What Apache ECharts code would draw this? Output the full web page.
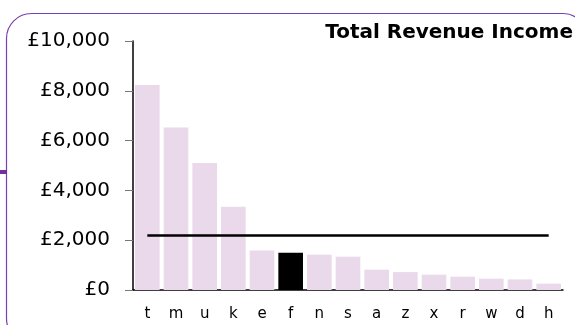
<!DOCTYPE html>
<html>
<head>
<meta charset="utf-8">
<script src="https://cdn.jsdelivr.net/npm/echarts@6/dist/echarts.min.js"></script>
<style>
  html, body { margin: 0; padding: 0; background: #fff; }
  #chart { width: 575px; height: 325px; }
</style>
</head>
<body>
<div id="chart"></div>
<script>
// Revenue by member, with the average shown as a flat line
var categories = ['t', 'm', 'u', 'k', 'e', 'f', 'n', 's', 'a', 'z', 'x', 'r', 'w', 'd', 'h'];
var revenue = [8230, 6530, 5100, 3340, 1590, 1500, 1420, 1340, 815, 720, 615, 535, 455, 425, 255];
var averageValue = 2190;
var highlighted = 'f';
var yTicks = [0, 2000, 4000, 6000, 8000, 10000];

var averageLine = categories.map(function () { return averageValue; });
var barData = revenue.map(function (v, i) {
  return categories[i] === highlighted
    ? { value: v, itemStyle: { color: '#000000' } }
    : v;
});

function pounds(v) {
  return '£' + v.toString().replace(/\B(?=(\d{3})+(?!\d))/g, ',');
}

var chart = echarts.init(document.getElementById('chart'), null, { renderer: 'canvas' });
chart.setOption({
  animation: false,
  backgroundColor: '#ffffff',
  textStyle: { fontFamily: 'DejaVu Sans' },
  title: {
    text: 'Total Revenue Income',
    right: 2,
    top: 23,
    padding: 0,
    textStyle: { fontFamily: 'DejaVu Sans', fontWeight: 'bold', fontSize: 20, color: '#000' }
  },
  graphic: [
    {
      type: 'rect',
      shape: { x: 6.5, y: 13.5, width: 581, height: 330, r: 25 },
      style: { fill: 'none', stroke: '#7a3fb0', lineWidth: 1.2 },
      silent: true,
      z: -1
    },
    {
      type: 'rect',
      shape: { x: 0, y: 170, width: 7, height: 4 },
      style: { fill: '#7030a0' },
      silent: true,
      z: -1
    }
  ],
  grid: { left: 133, right: 12, top: 41, bottom: 35, containLabel: false },
  xAxis: {
    type: 'category',
    data: categories,
    axisLine: { show: true, lineStyle: { color: '#000', width: 1.5 } },
    axisTick: { show: false },
    axisLabel: { fontFamily: 'DejaVu Sans', fontSize: 15, color: '#000', margin: 17 }
  },
  yAxis: {
    type: 'value',
    min: yTicks[0],
    max: yTicks[yTicks.length - 1],
    interval: 2000,
    splitLine: { show: false },
    axisLine: { show: true, lineStyle: { color: '#000', width: 1.5 } },
    axisTick: { show: true, length: 8, lineStyle: { color: '#777' } },
    axisLabel: {
      fontFamily: 'DejaVu Sans', fontSize: 20, color: '#000', margin: 23,
      formatter: pounds
    }
  },
  series: [
    {
      type: 'bar',
      data: barData,
      barCategoryGap: '14%',
      itemStyle: { color: '#ead9eb' },
      z: 2
    },
    {
      type: 'line',
      data: averageLine,
      showSymbol: false,
      symbol: 'none',
      lineStyle: { color: '#000', width: 2.5 },
      z: 3
    }
  ]
});
</script>
</body>
</html>
